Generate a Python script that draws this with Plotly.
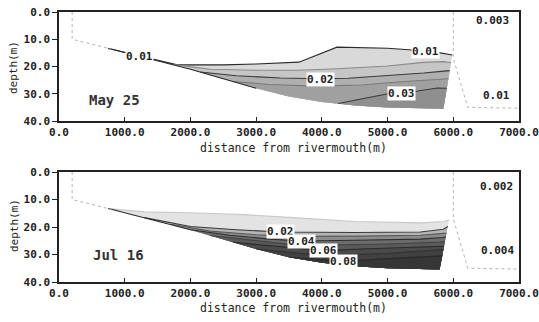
import numpy as np
import plotly.graph_objects as go

# ---------------- data (x: distance from river mouth [m], y: depth [m]) -------------
seabed_x = [200, 800, 1300, 1700, 2000, 2500, 3000, 3500, 4000, 4500, 5000, 5850]
seabed_y = [10.0, 13.6, 16.6, 19.0, 21.0, 24.5, 28.0, 31.0, 33.0, 34.3, 35.0, 35.5]

outline_left_x = [200, 200, 800]
outline_left_y = [0.0, 10.0, 13.6]
outline_right_x = [6000, 6000, 6220, 7000]
outline_right_y = [0.0, 17.0, 35.0, 35.3]

# May 25 panel
may_levels = [0.01, 0.015, 0.02, 0.025, 0.03]
may_cx = [
    [750, 1235, 1800, 2500, 3000, 3650, 4230, 5000, 5540, 5800, 5985],
    [1750, 2300, 3000, 3650, 4240, 5000, 5550, 5860, 5966],
    [2150, 2700, 3370, 3980, 4400, 5000, 5550, 5860, 5946],
    [2650, 3200, 3900, 4600, 5200, 5800, 5925],
    [4250, 4390, 5046, 5460, 5760, 5900],
]
may_cy = [
    [13.4, 16.1, 19.4, 19.4, 19.1, 18.4, 12.9, 13.3, 14.2, 15.0, 15.8],
    [19.3, 21.0, 21.4, 21.4, 20.8, 19.8, 18.5, 18.2, 18.6],
    [22.0, 23.4, 24.2, 24.5, 24.3, 23.4, 22.4, 21.7, 21.5],
    [25.5, 26.6, 27.2, 26.8, 25.6, 24.6, 24.5],
    [33.6, 32.9, 29.8, 29.0, 27.9, 28.0],
]
may_wall_x = [5985, 5850]
may_wall_y = [15.8, 35.5]
may_labels = ["0.01", "0.01", "0.02", "0.03"]
may_label_x = [1220, 5580, 3980, 5215]
may_label_y = [16.5, 14.6, 24.6, 29.9]
may_far_labels = ["0.003", "0.01"]
may_far_x = [6590, 6650]
may_far_y = [3.3, 30.5]

# Jul 16 panel
jul_levels = [0.01, 0.02, 0.03, 0.04, 0.05, 0.06, 0.07, 0.08]
jul_cx = [
    [750, 1300, 2000, 2800, 3500, 4500, 5500, 5850, 5935],
    [1300, 2000, 2700, 3370, 4500, 5500, 5850, 5917],
    [1700, 2300, 3000, 3700, 4600, 5500, 5850, 5896],
    [2000, 2600, 3200, 3690, 4500, 5500, 5840, 5886],
    [2300, 2900, 3500, 4100, 5000, 5800, 5873],
    [2650, 3200, 3700, 4020, 4700, 5500, 5820, 5859],
    [3000, 3600, 4200, 5000, 5810, 5849],
    [3500, 4000, 4330, 5000, 5800, 5833],
]
jul_cy = [
    [13.3, 14.5, 14.8, 15.5, 16.5, 18.0, 18.5, 18.0, 17.5],
    [16.6, 19.8, 21.0, 21.8, 22.0, 21.8, 20.8, 19.8],
    [19.0, 21.5, 22.8, 23.4, 23.3, 23.0, 22.3, 22.3],
    [21.0, 23.0, 24.4, 25.1, 24.8, 24.4, 23.8, 23.6],
    [23.1, 24.8, 26.3, 26.6, 26.2, 25.5, 25.3],
    [25.55, 26.8, 28.0, 28.6, 27.9, 27.4, 27.0, 27.0],
    [28.0, 29.5, 30.3, 29.6, 28.3, 28.3],
    [31.0, 32.0, 32.5, 31.5, 30.5, 30.5],
]
jul_wall_x = [5935, 5790]
jul_wall_y = [17.5, 35.6]
jul_labels = ["0.02", "0.04", "0.06", "0.08"]
jul_label_x = [3370, 3690, 4020, 4330]
jul_label_y = [21.7, 25.1, 28.6, 32.6]
jul_far_labels = ["0.002", "0.004"]
jul_far_x = [6660, 6680]
jul_far_y = [5.1, 28.7]

x_ticks = [0, 1000, 2000, 3000, 4000, 5000, 6000, 7000]
y_ticks = [0, 10, 20, 30, 40]

# ---------------- styles ----------------
may_fill = ["#d9d9d9", "#c6c6c6", "#afafaf", "#a0a0a0", "#8f8f8f"]
may_line = ["#2a2a2a", "#8a8a8a", "#3a3a3a", "#7a7a7a", "#3a3a3a"]
jul_fill = ["#e3e3e3", "#b4b4b4", "#8c8c8c", "#6c6c6c", "#5a5a5a", "#4a4a4a", "#414141", "#363636"]
jul_line = ["#c8c8c8", "#3a3a3a", "#5a5a5a", "#2e2e2e", "#444444", "#2a2a2a", "#333333", "#2a2a2a"]

MONO = "DejaVu Sans Mono"
INK = "#222222"

fig = go.Figure()


def band_polygon(cx, cy, wall_x, wall_y):
    last = cy[-1]
    wx = [x for x, y in zip(wall_x, wall_y) if y > last]
    wy = [y for y in wall_y if y > last]
    x_base = wall_x[-1]
    y_base = float(np.interp(x_base, seabed_x, seabed_y))
    inner = [(x, y) for x, y in zip(seabed_x, seabed_y) if cx[0] < x < x_base]
    inner = inner[::-1]
    px = list(cx) + wx + [x_base] + [p[0] for p in inner] + [cx[0]]
    py = list(cy) + wy + [y_base] + [p[1] for p in inner] + [cy[0]]
    return px, py


def add_panel(xa, ya, cxs, cys, wall_x, wall_y, fills, lines, dark_sb_end):
    for cx, cy, fc in zip(cxs, cys, fills):
        px, py = band_polygon(cx, cy, wall_x, wall_y)
        fig.add_trace(go.Scatter(x=px, y=py, mode="lines", fill="toself",
                                 fillcolor=fc, line=dict(width=0),
                                 xaxis=xa, yaxis=ya, hoverinfo="skip",
                                 showlegend=False))
    for cx, cy, lc in zip(cxs, cys, lines):
        fig.add_trace(go.Scatter(x=cx, y=cy, mode="lines",
                                 line=dict(color=lc, width=1.1),
                                 xaxis=xa, yaxis=ya, hoverinfo="skip",
                                 showlegend=False))
    # seabed dark segment
    sx = [750] + [x for x in seabed_x if 750 < x <= dark_sb_end]
    sy = [float(np.interp(x, seabed_x, seabed_y)) for x in sx]
    fig.add_trace(go.Scatter(x=sx, y=sy, mode="lines",
                             line=dict(color="#2a2a2a", width=1.1),
                             xaxis=xa, yaxis=ya, hoverinfo="skip", showlegend=False))
    # faint outline
    for ox, oy in ((outline_left_x, outline_left_y), (outline_right_x, outline_right_y)):
        fig.add_trace(go.Scatter(x=ox, y=oy, mode="lines",
                                 line=dict(color="#b4b4b4", width=1, dash="dot"),
                                 xaxis=xa, yaxis=ya, hoverinfo="skip", showlegend=False))


add_panel("x", "y", may_cx, may_cy, may_wall_x, may_wall_y, may_fill, may_line, 3000)
add_panel("x2", "y2", jul_cx, jul_cy, jul_wall_x, jul_wall_y, jul_fill, jul_line, 2000)

annotations = []


def ann(**kw):
    kw.setdefault("showarrow", False)
    kw.setdefault("xanchor", "center")
    kw.setdefault("yanchor", "middle")
    annotations.append(kw)


for t, x, y in zip(may_labels, may_label_x, may_label_y):
    ann(x=x, y=y, xref="x", yref="y", text=t, bgcolor="white", borderpad=0,
        font=dict(family=MONO, size=11, color=INK, weight="bold"))
for t, x, y in zip(jul_labels, jul_label_x, jul_label_y):
    ann(x=x, y=y, xref="x2", yref="y2", text=t, bgcolor="white", borderpad=0,
        font=dict(family=MONO, size=11, color=INK, weight="bold"))
for t, x, y in zip(may_far_labels, may_far_x, may_far_y):
    ann(x=x, y=y, xref="x", yref="y", text=t,
        font=dict(family=MONO, size=11, color=INK, weight="bold"))
for t, x, y in zip(jul_far_labels, jul_far_x, jul_far_y):
    ann(x=x, y=y, xref="x2", yref="y2", text=t,
        font=dict(family=MONO, size=11, color=INK, weight="bold"))

ann(x=850, y=32.3, xref="x", yref="y", text="May 25",
    font=dict(family=MONO, size=14, color="#333333", weight="bold"))
ann(x=900, y=30.3, xref="x2", yref="y2", text="Jul 16",
    font=dict(family=MONO, size=14, color="#333333", weight="bold"))

# the page's body margin is removed (post_script), so figure pixels = page pixels
W, H = 539, 322


def fx(px):
    return px / W


def fy(py):
    return 1 - py / H


for ypx in (148, 308):
    ann(x=fx(293), y=fy(ypx), xref="paper", yref="paper",
        text="distance from rivermouth(m)",
        font=dict(family=MONO, size=11.5, color=INK))
for ypx in (68, 226):
    ann(x=fx(14), y=fy(ypx), xref="paper", yref="paper",
        text="depth(m)", textangle=-90,
        font=dict(family=MONO, size=11, color=INK))

xdom = [fx(59), fx(519)]
axis_common = dict(showgrid=False, zeroline=False, showline=True, mirror=True,
                   linecolor="#222222", linewidth=1.5, tickcolor="#222222",
                   automargin=False, ticklabeloverflow="allow",
                   tickfont=dict(family=MONO, size=11, color=INK, weight="bold"))
xaxis_extra = dict(ticks="inside", ticklen=4)
yaxis_extra = dict(ticks="outside", ticklen=5)

fig.update_layout(
    width=W, height=H,
    margin=dict(l=0, r=0, t=0, b=0, autoexpand=False),
    paper_bgcolor="white", plot_bgcolor="white",
    showlegend=False,
    xaxis=dict(domain=xdom, range=[0, 7000], tickvals=x_ticks, tickformat=".1f",
               anchor="y", **axis_common, **xaxis_extra),
    yaxis=dict(domain=[fy(121), fy(12)], range=[40, 0], tickvals=y_ticks,
               tickformat=".1f", anchor="x", **axis_common, **yaxis_extra),
    xaxis2=dict(domain=xdom, range=[0, 7000], tickvals=x_ticks, tickformat=".1f",
                anchor="y2", **axis_common, **xaxis_extra),
    yaxis2=dict(domain=[fy(282), fy(172)], range=[40, 0], tickvals=y_ticks,
                tickformat=".1f", anchor="x2", **axis_common, **yaxis_extra),
    annotations=annotations,
)

fig.write_html("out.html", config={"displayModeBar": False},
               post_script="document.body.style.margin='0';document.body.style.overflow='hidden';")
